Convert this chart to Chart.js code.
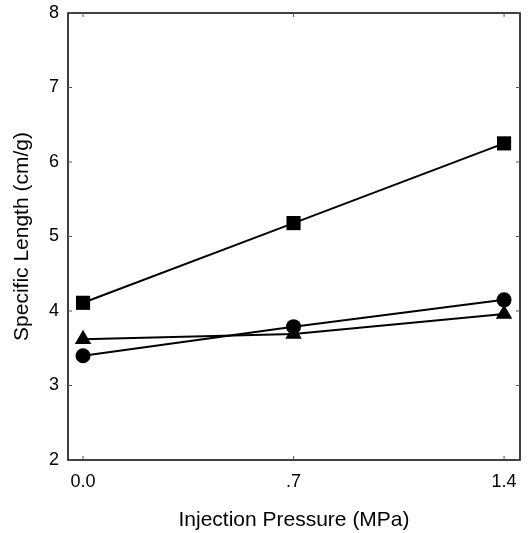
<!DOCTYPE html>
<html>
<head>
<meta charset="utf-8">
<script src="https://cdn.jsdelivr.net/npm/chart.js@4"></script>
<style>
  html, body { margin: 0; padding: 0; background: #fff; }
  #wrap { width: 532px; height: 533px; }
</style>
</head>
<body>
<div id="wrap"><canvas id="lengthChart" width="532" height="533"></canvas></div>
<script>
// pressure levels (MPa) and tick labels
const pressures = [0.0, 0.7, 1.4];
const xTickLabels = ['0.0', '.7', '1.4'];
const yTicks = [2, 3, 4, 5, 6, 7, 8];

// specific length (cm/g) for each series
const squareSeries = [4.11, 5.18, 6.25];
const circleSeries = [3.40, 3.79, 4.15];
const triangleSeries = [3.62, 3.69, 3.96];

const fontFamily = '"Liberation Sans", Arial, Helvetica, sans-serif';

function toPoints(values) {
    return pressures.map((p, i) => ({ x: p, y: values[i] }));
}

const frame = {
    id: 'frame',
    afterDraw(chart) {
        const { ctx, chartArea: a, scales } = chart;
        ctx.save();
        ctx.strokeStyle = '#000';
        ctx.lineWidth = 1.5;
        ctx.strokeRect(a.left, a.top, a.right - a.left, a.bottom - a.top);

        // small inward ticks
        ctx.strokeStyle = '#555';
        ctx.lineWidth = 1;
        ctx.beginPath();
        yTicks.forEach(v => {
            const y = scales.y.getPixelForValue(v);
            ctx.moveTo(a.left, y); ctx.lineTo(a.left + 4, y);
            ctx.moveTo(a.right, y); ctx.lineTo(a.right - 4, y);
        });
        pressures.forEach(v => {
            const x = scales.x.getPixelForValue(v);
            ctx.moveTo(x, a.bottom); ctx.lineTo(x, a.bottom - 4);
            ctx.moveTo(x, a.top); ctx.lineTo(x, a.top + 4);
        });
        ctx.stroke();
        ctx.restore();
    }
};

function series(label, values, style, radius) {
    return {
        label: label,
        data: toPoints(values),
        borderColor: '#000',
        backgroundColor: '#000',
        borderWidth: 2,
        pointStyle: style,
        pointRadius: radius,
        pointBorderWidth: 0,
        pointBackgroundColor: '#000',
        tension: 0
    };
}

new Chart(document.getElementById('lengthChart').getContext('2d'), {
    type: 'line',
    data: {
        datasets: [
            series('Square', squareSeries, 'rect', 10),
            series('Circle', circleSeries, 'circle', 7.5),
            series('Triangle', triangleSeries, 'triangle', 9.5)
        ]
    },
    options: {
        responsive: false,
        animation: false,
        layout: { padding: { top: 13, right: 12, left: 0, bottom: 0 } },
        plugins: { legend: { display: false }, tooltip: { enabled: false } },
        scales: {
            x: {
                type: 'linear',
                min: -0.05,
                max: 1.453,
                afterBuildTicks: scale => { scale.ticks = pressures.map(v => ({ value: v })); },
                afterFit: scale => {
                    scale.height = 73;
                    scale.paddingLeft = 0;
                    scale.paddingRight = 0;
                },
                grid: { display: false, drawTicks: false },
                border: { display: false },
                ticks: {
                    color: '#000',
                    padding: 11,
                    font: { family: fontFamily, size: 18 },
                    callback: (v) => xTickLabels[pressures.indexOf(v)] ?? ''
                },
                title: {
                    display: true,
                    text: 'Injection Pressure (MPa)',
                    color: '#000',
                    font: { family: fontFamily, size: 21 },
                    padding: { top: 10, bottom: 0 }
                }
            },
            y: {
                min: 2,
                max: 8,
                afterBuildTicks: scale => { scale.ticks = yTicks.map(v => ({ value: v })); },
                afterFit: scale => {
                    scale.width = 68;
                    scale.paddingTop = 0;
                    scale.paddingBottom = 0;
                },
                grid: { display: false, drawTicks: false },
                border: { display: false },
                ticks: {
                    color: '#000',
                    padding: 9,
                    font: { family: fontFamily, size: 18 }
                },
                title: {
                    display: true,
                    text: 'Specific Length (cm/g)',
                    color: '#000',
                    font: { family: fontFamily, size: 21 },
                    padding: { top: 10, bottom: 0 }
                }
            }
        }
    },
    plugins: [frame]
});
</script>
</body>
</html>
